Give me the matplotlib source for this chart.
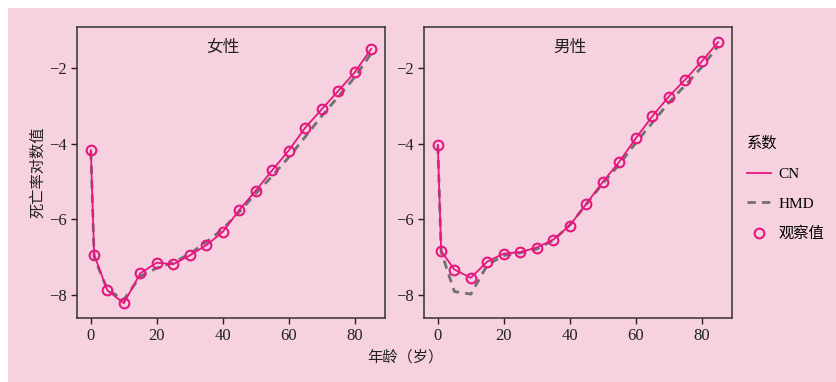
import numpy as np
import matplotlib.pyplot as plt
from matplotlib.patches import Rectangle
from matplotlib.lines import Line2D

plt.rcParams['font.family'] = ['Liberation Serif', 'Noto Sans CJK SC']
plt.rcParams['axes.unicode_minus'] = True

age = [0, 1, 5, 10, 15, 20, 25, 30, 35, 40, 45, 50, 55, 60, 65, 70, 75, 80, 85]

# 女性
f_obs = [-4.17, -6.93, -7.87, -8.21, -7.42, -7.14, -7.18, -6.95, -6.68, -6.33,
         -5.75, -5.24, -4.70, -4.18, -3.58, -3.09, -2.61, -2.12, -1.50]
f_cn = f_obs
f_hmd = [-4.20, -7.00, -7.85, -8.12, -7.50, -7.28, -7.14, -6.90, -6.60, -6.25,
         -5.80, -5.32, -4.85, -4.36, -3.82, -3.27, -2.76, -2.25, -1.62]

# 男性
m_obs = [-4.03, -6.83, -7.32, -7.54, -7.11, -6.90, -6.86, -6.74, -6.53, -6.16,
         -5.59, -5.01, -4.48, -3.86, -3.28, -2.76, -2.31, -1.83, -1.32]
m_cn = m_obs
m_hmd = [-4.05, -6.85, -7.90, -7.97, -7.20, -6.95, -6.88, -6.78, -6.55, -6.15,
         -5.60, -5.05, -4.55, -3.98, -3.45, -2.92, -2.46, -1.98, -1.42]

pink = '#e6177f'
gray = '#707070'
bg = '#f6d1e0'

fig = plt.figure(figsize=(8.36, 3.82), dpi=100)
fig.patch.set_facecolor('white')
fig.patches.append(Rectangle((8/836, 0), 1, 374/382, transform=fig.transFigure,
                             facecolor=bg, edgecolor='none', zorder=-10))

panels = [(77, '女性', f_obs, f_cn, f_hmd), (424, '男性', m_obs, m_cn, m_hmd)]
axes = []
for x0, title, obs, cn, hmd in panels:
    ax = fig.add_axes([x0/836, 64/382, 308/836, 291/382])
    ax.set_facecolor(bg)
    ax.plot(age, hmd, color=gray, lw=2, ls=(0, (3, 2.2)), zorder=2)
    ax.plot(age, cn, color=pink, lw=1.3, zorder=3)
    ax.plot(age, obs, ls='none', marker='o', ms=7, mfc='none', mec=pink, mew=1.5, zorder=4)
    ax.set_xlim(-4.2, 89.2)
    ax.set_ylim(-8.6, -0.92)
    ax.set_xticks([0, 20, 40, 60, 80])
    ax.set_yticks([-8, -6, -4, -2])
    ax.tick_params(direction='out', length=4, width=1, labelsize=12, colors='#222222')
    for s in ax.spines.values():
        s.set_color('#333333')
        s.set_linewidth(1.1)
    ax.text(40, 0.928, title, transform=ax.get_xaxis_transform(), ha='center', va='center',
            fontsize=12, color='#222222')
    axes.append(ax)

axes[0].set_ylabel('死亡率对数值', fontsize=11, color='#222222', labelpad=3)
fig.text(405/836, 1 - 357/382, '年龄（岁）', ha='center', va='center', fontsize=11, color='#222222')

handles = [Line2D([], [], color=pink, lw=1.3),
           Line2D([], [], color=gray, lw=2, ls=(0, (3, 2.2))),
           Line2D([], [], ls='none', marker='o', ms=7, mfc='none', mec=pink, mew=1.5)]
leg = fig.legend(handles, ['CN', 'HMD', '观察值'], title='系数', loc='upper left',
                 bbox_to_anchor=(733/836, 1 - 123/382), frameon=False, fontsize=11,
                 title_fontsize=11, handlelength=1.6, handletextpad=0.45,
                 labelspacing=1.05, alignment='left')

fig.savefig('out.png', dpi=100, facecolor=fig.get_facecolor())
